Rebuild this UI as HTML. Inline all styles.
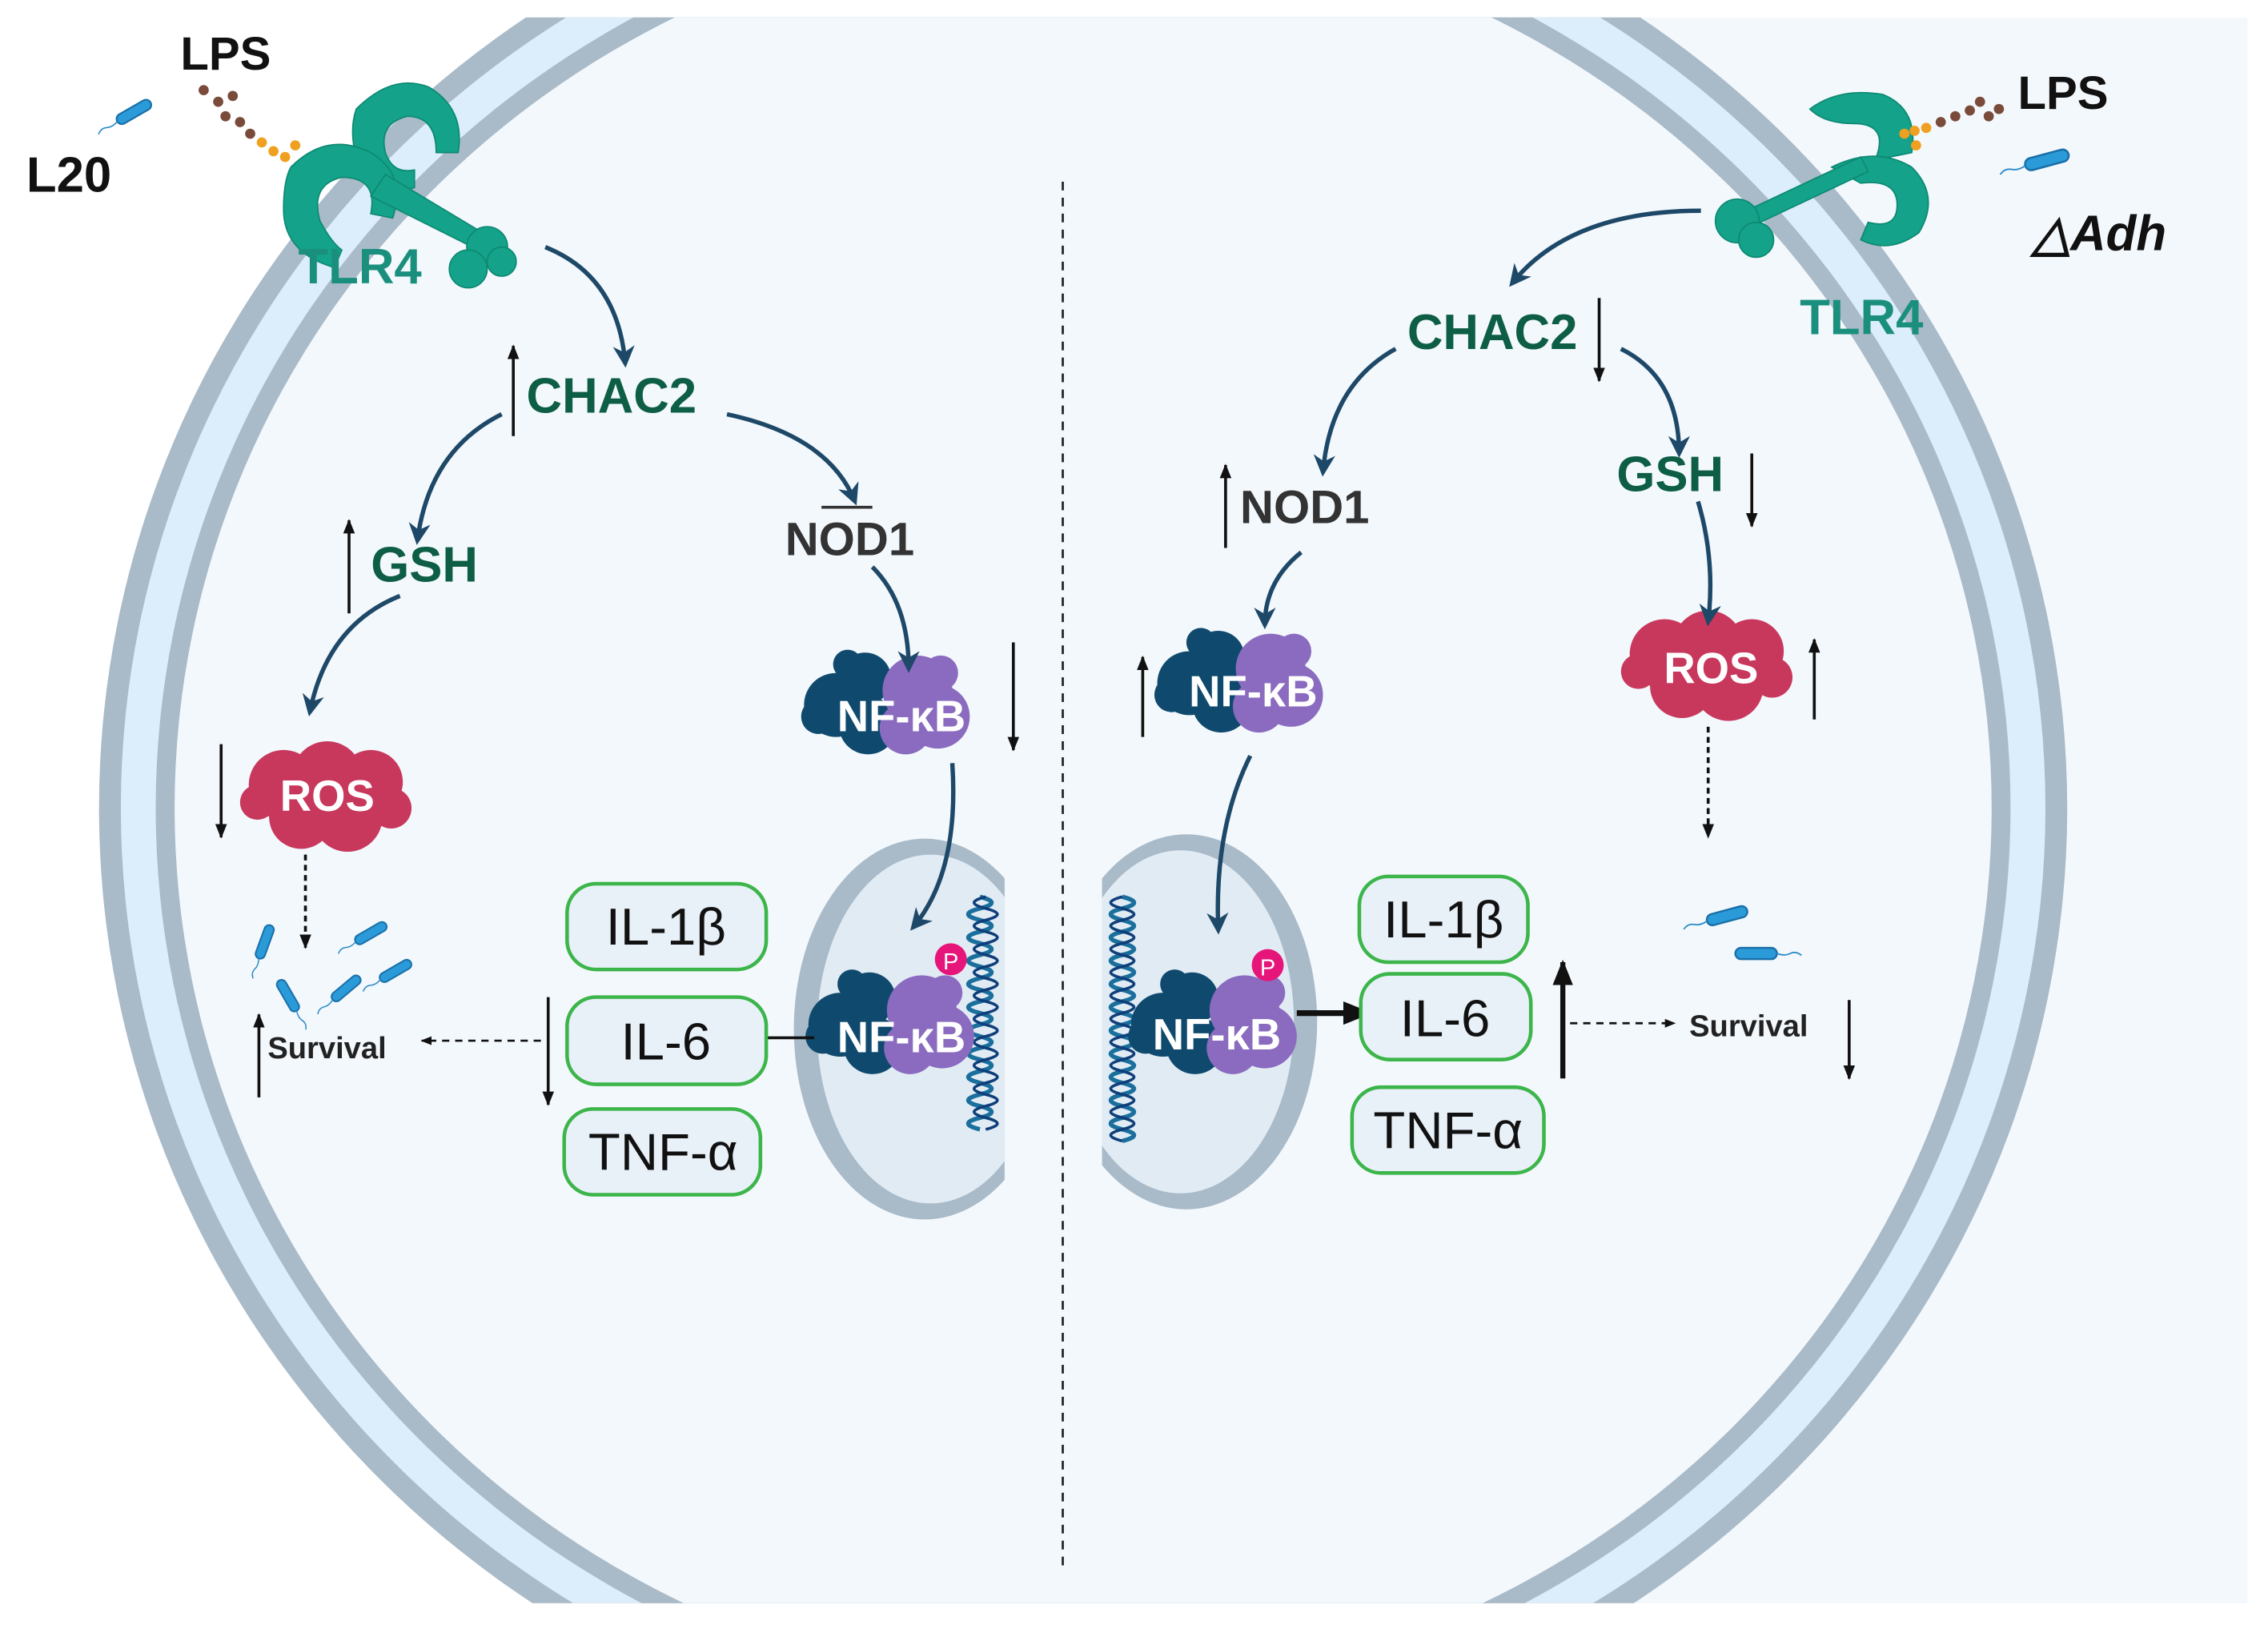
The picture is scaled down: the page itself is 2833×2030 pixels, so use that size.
<!DOCTYPE html>
<html><head><meta charset="utf-8"><style>
html,body{margin:0;padding:0;background:#fff;width:2833px;height:2030px;overflow:hidden;}
svg{display:block;}
text{font-family:"Liberation Sans",sans-serif;}
</style></head><body>
<svg width="2833" height="2030" viewBox="0 0 1560 1118" xmlns="http://www.w3.org/2000/svg">
<defs>
<clipPath id="pc"><rect x="0" y="12" width="1546" height="1091"/></clipPath>
<clipPath id="nl"><rect x="500" y="500" width="191" height="400"/></clipPath>
<clipPath id="nr"><rect x="758" y="500" width="200" height="400"/></clipPath>
<marker id="nv" viewBox="0 0 10 10" refX="8" refY="5" markerWidth="5" markerHeight="5" orient="auto"><path d="M0,0L10,5L0,10L3,5z" fill="#1e4868"/></marker>
<marker id="bs" viewBox="0 0 10 10" refX="9" refY="5" markerWidth="5" markerHeight="5" orient="auto"><path d="M0,1L10,5L0,9z" fill="#111"/></marker>
<g id="bac"><rect x="-22" y="-6" width="44" height="12" rx="6" fill="#2a9ad8" stroke="#1a6fa8" stroke-width="2"/><path d="M-22,0 q-8,3 -14,0 q-6,-3 -12,2" stroke="#2a8ac8" stroke-width="1.5" fill="none"/></g>
<g id="nfk">
<circle cx="-40" cy="0" r="22" fill="#0f4a6e"/><circle cx="-20" cy="-18" r="18" fill="#0f4a6e"/><circle cx="-18" cy="14" r="20" fill="#0f4a6e"/><circle cx="-52" cy="8" r="12" fill="#0f4a6e"/><circle cx="-32" cy="-28" r="10" fill="#0f4a6e"/>
<circle cx="16" cy="-10" r="24" fill="#8a6bbf"/><circle cx="30" cy="8" r="22" fill="#8a6bbf"/><circle cx="8" cy="16" r="18" fill="#8a6bbf"/><circle cx="32" cy="-22" r="12" fill="#8a6bbf"/>
</g>
<g id="ros">
<circle cx="-30" cy="-8" r="24" fill="#c8375c"/><circle cx="0" cy="-14" r="24" fill="#c8375c"/><circle cx="30" cy="-10" r="22" fill="#c8375c"/><circle cx="-18" cy="14" r="22" fill="#c8375c"/><circle cx="14" cy="14" r="24" fill="#c8375c"/><circle cx="44" cy="8" r="14" fill="#c8375c"/><circle cx="-48" cy="4" r="12" fill="#c8375c"/>
</g>
</defs>
<g clip-path="url(#pc)">
<rect x="745" y="12" width="801" height="1091" fill="#f3f8fc"/>
<ellipse cx="745" cy="556" rx="677" ry="660" fill="#a9bac8"/>
<ellipse cx="745" cy="556" rx="662" ry="645" fill="#dcedfb"/>
<ellipse cx="745" cy="556" rx="638" ry="622" fill="#a9bac8"/>
<ellipse cx="745" cy="556" rx="625" ry="609" fill="#f3f8fc"/>
</g>
<line x1="731" y1="125" x2="731" y2="1078" stroke="#222" stroke-width="1.5" stroke-dasharray="6,5"/>
<g clip-path="url(#nl)"><ellipse cx="636" cy="708" rx="90" ry="131" fill="#a9bac8"/><ellipse cx="640" cy="708" rx="78" ry="120" fill="#e1ebf4"/></g>
<g clip-path="url(#nr)"><ellipse cx="816" cy="703" rx="90" ry="129" fill="#a9bac8"/><ellipse cx="812" cy="703" rx="78" ry="118" fill="#e1ebf4"/></g>
<path d="M668,617 q16,4 0,8 q-16,4 0,8 q16,4 0,8 q-16,4 0,8 q16,4 0,8 q-16,4 0,8 q16,4 0,8 q-16,4 0,8 q16,4 0,8 q-16,4 0,8 q16,4 0,8 q-16,4 0,8 q16,4 0,8 q-16,4 0,8 q16,4 0,8 q-16,4 0,8 q16,4 0,8 q-16,4 0,8 q16,4 0,8 q-16,4 0,8" transform="translate(6,0)" stroke="#1a6f9c" stroke-width="3" fill="none"/>
<path d="M672,617 q-16,4 0,8 q16,4 0,8 q-16,4 0,8 q16,4 0,8 q-16,4 0,8 q16,4 0,8 q-16,4 0,8 q16,4 0,8 q-16,4 0,8 q16,4 0,8 q-16,4 0,8 q16,4 0,8 q-16,4 0,8 q16,4 0,8 q-16,4 0,8 q16,4 0,8 q-16,4 0,8 q16,4 0,8 q-16,4 0,8 q16,4 0,8" transform="translate(6,0)" stroke="#0f3f7a" stroke-width="2" fill="none"/>
<path d="M772,617 q16,4 0,8 q-16,4 0,8 q16,4 0,8 q-16,4 0,8 q16,4 0,8 q-16,4 0,8 q16,4 0,8 q-16,4 0,8 q16,4 0,8 q-16,4 0,8 q16,4 0,8 q-16,4 0,8 q16,4 0,8 q-16,4 0,8 q16,4 0,8 q-16,4 0,8 q16,4 0,8 q-16,4 0,8 q16,4 0,8 q-16,4 0,8 q16,4 0,8" stroke="#1a6f9c" stroke-width="3" fill="none"/>
<path d="M788,617 q-16,4 0,8 q16,4 0,8 q-16,4 0,8 q16,4 0,8 q-16,4 0,8 q16,4 0,8 q-16,4 0,8 q16,4 0,8 q-16,4 0,8 q16,4 0,8 q-16,4 0,8 q16,4 0,8 q-16,4 0,8 q16,4 0,8 q-16,4 0,8 q16,4 0,8 q-16,4 0,8 q16,4 0,8 q-16,4 0,8 q16,4 0,8 q-16,4 0,8" stroke="#0f3f7a" stroke-width="2" fill="none" transform="translate(-16,0)"/>
<use href="#nfk" x="618" y="705"/>
<text x="620" y="724" font-size="30" font-weight="bold" fill="#fff" text-anchor="middle">NF-κB</text>
<circle cx="654" cy="660" r="11" fill="#e6157a"/><text x="654" y="667" font-size="16" fill="#fff" text-anchor="middle">P</text>
<use href="#nfk" x="840" y="705"/>
<text x="837" y="722" font-size="30" font-weight="bold" fill="#fff" text-anchor="middle">NF-κB</text>
<circle cx="872" cy="664" r="11" fill="#e6157a"/><text x="872" y="671" font-size="16" fill="#fff" text-anchor="middle">P</text>
<use href="#nfk" x="615" y="485"/>
<text x="620" y="503" font-size="30" font-weight="bold" fill="#fff" text-anchor="middle">NF-κB</text>
<use href="#nfk" x="858" y="470"/>
<text x="862" y="486" font-size="30" font-weight="bold" fill="#fff" text-anchor="middle">NF-κB</text>
<use href="#ros" x="225" y="548"/>
<text x="225" y="558" font-size="30" font-weight="bold" fill="#fff" text-anchor="middle">ROS</text>
<use href="#ros" x="1175" y="458"/>
<text x="1177" y="470" font-size="30" font-weight="bold" fill="#fff" text-anchor="middle">ROS</text>
<g fill="#14a38a" stroke="#0e8a74" stroke-width="1">
<path d="M245,75 q25,-25 50,-15 q25,15 20,45 l-15,0 q0,-25 -20,-25 q-20,5 -15,25 q5,15 20,12 l0,12 q-30,10 -40,-20 q-5,-20 0,-34z"/>
<path d="M200,115 q25,-25 55,-10 q25,15 15,45 l-15,-3 q5,-25 -20,-25 q-22,5 -15,30 q8,15 15,20 l-5,12 q-35,-10 -35,-40 q0,-20 5,-29z"/>
<path d="M265,120 l75,45 l-5,10 l-80,-40z"/>
<circle cx="335" cy="170" r="14"/><circle cx="322" cy="185" r="13"/><circle cx="345" cy="180" r="10"/>
</g>
<text x="205" y="195" font-size="34" font-weight="bold" fill="#1a8f7d">TLR4</text>
<g fill="#7a4a3a"><circle cx="140" cy="62" r="3.5"/><circle cx="150" cy="70" r="3.5"/><circle cx="160" cy="66" r="3.5"/><circle cx="155" cy="80" r="3.5"/><circle cx="165" cy="84" r="3.5"/><circle cx="172" cy="92" r="3.5"/></g>
<g fill="#f0a020"><circle cx="180" cy="98" r="3.5"/><circle cx="188" cy="104" r="3.5"/><circle cx="196" cy="108" r="3.5"/><circle cx="203" cy="100" r="3.5"/></g>
<text x="124" y="48" font-size="32" fill="#111" font-weight="bold">LPS</text>
<text x="18" y="132" font-size="34" fill="#111" font-weight="bold">L20</text>
<use href="#bac" transform="translate(92,77) rotate(-30) scale(0.6)"/>
<g fill="#14a38a" stroke="#0e8a74" stroke-width="1">
<path d="M1245,75 q20,-15 50,-10 q25,10 20,40 l-25,5 q10,-25 -15,-25 q-20,0 -30,-10z"/>
<path d="M1260,115 q30,-15 55,0 q20,20 5,45 q-20,15 -40,5 l5,-12 q20,5 20,-12 q0,-18 -25,-15z"/>
<path d="M1195,148 l85,-40 l5,10 l-85,40z"/>
<circle cx="1195" cy="152" r="15"/><circle cx="1208" cy="165" r="12"/>
</g>
<text x="1238" y="230" font-size="34" font-weight="bold" fill="#1a8f7d">TLR4</text>
<g fill="#7a4a3a"><circle cx="1345" cy="80" r="3.5"/><circle cx="1355" cy="76" r="3.5"/><circle cx="1362" cy="70" r="3.5"/><circle cx="1368" cy="80" r="3.5"/><circle cx="1375" cy="75" r="3.5"/><circle cx="1335" cy="84" r="3.5"/></g>
<g fill="#f0a020"><circle cx="1325" cy="88" r="3.5"/><circle cx="1317" cy="90" r="3.5"/><circle cx="1310" cy="92" r="3.5"/><circle cx="1318" cy="100" r="3.5"/></g>
<text x="1388" y="75" font-size="32" fill="#111" font-weight="bold">LPS</text>
<use href="#bac" transform="translate(1408,110) rotate(-15) scale(0.7)"/>
<text x="1398" y="172" font-size="34" fill="#111" font-weight="bold" font-style="italic">△Adh</text>
<g font-size="34" font-weight="bold" fill="#0d5e45">
<text x="362" y="284">CHAC2</text>
<text x="255" y="400">GSH</text>
<text x="968" y="240">CHAC2</text>
<text x="1112" y="338">GSH</text>
</g>
<g font-size="32" font-weight="bold" fill="#333">
<text x="540" y="382">NOD1</text>
<text x="853" y="360">NOD1</text>
</g>
<line x1="565" y1="349" x2="600" y2="349" stroke="#333" stroke-width="2"/>
<g stroke="#1e4868" stroke-width="3" fill="none" marker-end="url(#nv)">
<path d="M375,170 Q425,190 430,250"/>
<path d="M345,285 Q295,310 287,372"/>
<path d="M500,285 Q570,300 588,345"/>
<path d="M275,410 Q225,430 213,490"/>
<path d="M600,390 Q625,415 625,460"/>
<path d="M655,525 Q660,600 628,638"/>
<path d="M1170,145 Q1080,145 1040,195"/>
<path d="M960,240 Q915,265 910,325"/>
<path d="M1115,240 Q1155,260 1155,312"/>
<path d="M1168,345 Q1180,385 1175,428"/>
<path d="M895,380 Q870,400 870,430"/>
<path d="M860,520 Q835,570 838,640"/>
</g>
<g stroke="#111" stroke-width="2" marker-end="url(#bs)">
<line x1="353" y1="300" x2="353" y2="238"/>
<line x1="240" y1="422" x2="240" y2="358"/>
<line x1="152" y1="512" x2="152" y2="576"/>
<line x1="697" y1="442" x2="697" y2="516"/>
<line x1="178" y1="755" x2="178" y2="698"/>
<line x1="377" y1="686" x2="377" y2="760"/>
<line x1="1100" y1="205" x2="1100" y2="262"/>
<line x1="843" y1="377" x2="843" y2="320"/>
<line x1="1205" y1="312" x2="1205" y2="362"/>
<line x1="1248" y1="495" x2="1248" y2="440"/>
<line x1="786" y1="507" x2="786" y2="452"/>
<line x1="1272" y1="688" x2="1272" y2="742"/>
</g>
<line x1="1075" y1="742" x2="1075" y2="662" stroke="#111" stroke-width="3.5" marker-end="url(#bs)"/>
<line x1="560" y1="714" x2="510" y2="714" stroke="#111" stroke-width="2" marker-end="url(#bs)"/>
<line x1="892" y1="697" x2="942" y2="697" stroke="#111" stroke-width="4" marker-end="url(#bs)"/>
<g stroke="#111" stroke-width="2" stroke-dasharray="4,3" marker-end="url(#bs)">
<line x1="210" y1="588" x2="210" y2="652"/>
<line x1="1175" y1="500" x2="1175" y2="576"/>
</g>
<g stroke="#111" stroke-width="1.5" stroke-dasharray="5,4" marker-end="url(#bs)">
<line x1="372" y1="716" x2="290" y2="716"/>
<line x1="1080" y1="704" x2="1152" y2="704"/>
</g>
<text x="184" y="728" font-size="21" font-weight="bold" fill="#222">Survival</text>
<text x="1162" y="713" font-size="21" font-weight="bold" fill="#222">Survival</text>
<use href="#bac" transform="translate(182,648) rotate(-70) scale(0.55)"/>
<use href="#bac" transform="translate(255,642) rotate(-30) scale(0.55)"/>
<use href="#bac" transform="translate(198,685) rotate(60) scale(-0.55,0.55)"/>
<use href="#bac" transform="translate(238,680) rotate(-40) scale(0.55)"/>
<use href="#bac" transform="translate(272,668) rotate(-30) scale(0.55)"/>
<use href="#bac" transform="translate(1188,630) rotate(-15) scale(0.65)"/>
<use href="#bac" transform="translate(1208,656) rotate(0) scale(-0.65,0.65)"/>
<g fill="#e8f0f8" stroke="#3cb54a" stroke-width="2.5">
<rect x="390" y="608" width="137" height="59" rx="20"/>
<rect x="390" y="686" width="137" height="60" rx="20"/>
<rect x="388" y="763" width="135" height="59" rx="20"/>
<rect x="935" y="603" width="116" height="59" rx="20"/>
<rect x="936" y="670" width="117" height="59" rx="20"/>
<rect x="930" y="748" width="132" height="59" rx="20"/>
</g>
<g font-size="36" fill="#111" text-anchor="middle">
<text x="458" y="650">IL-1β</text>
<text x="458" y="729">IL-6</text>
<text x="456" y="805">TNF-α</text>
<text x="993" y="645">IL-1β</text>
<text x="994" y="713">IL-6</text>
<text x="996" y="790">TNF-α</text>
</g>
</svg>
</body></html>
